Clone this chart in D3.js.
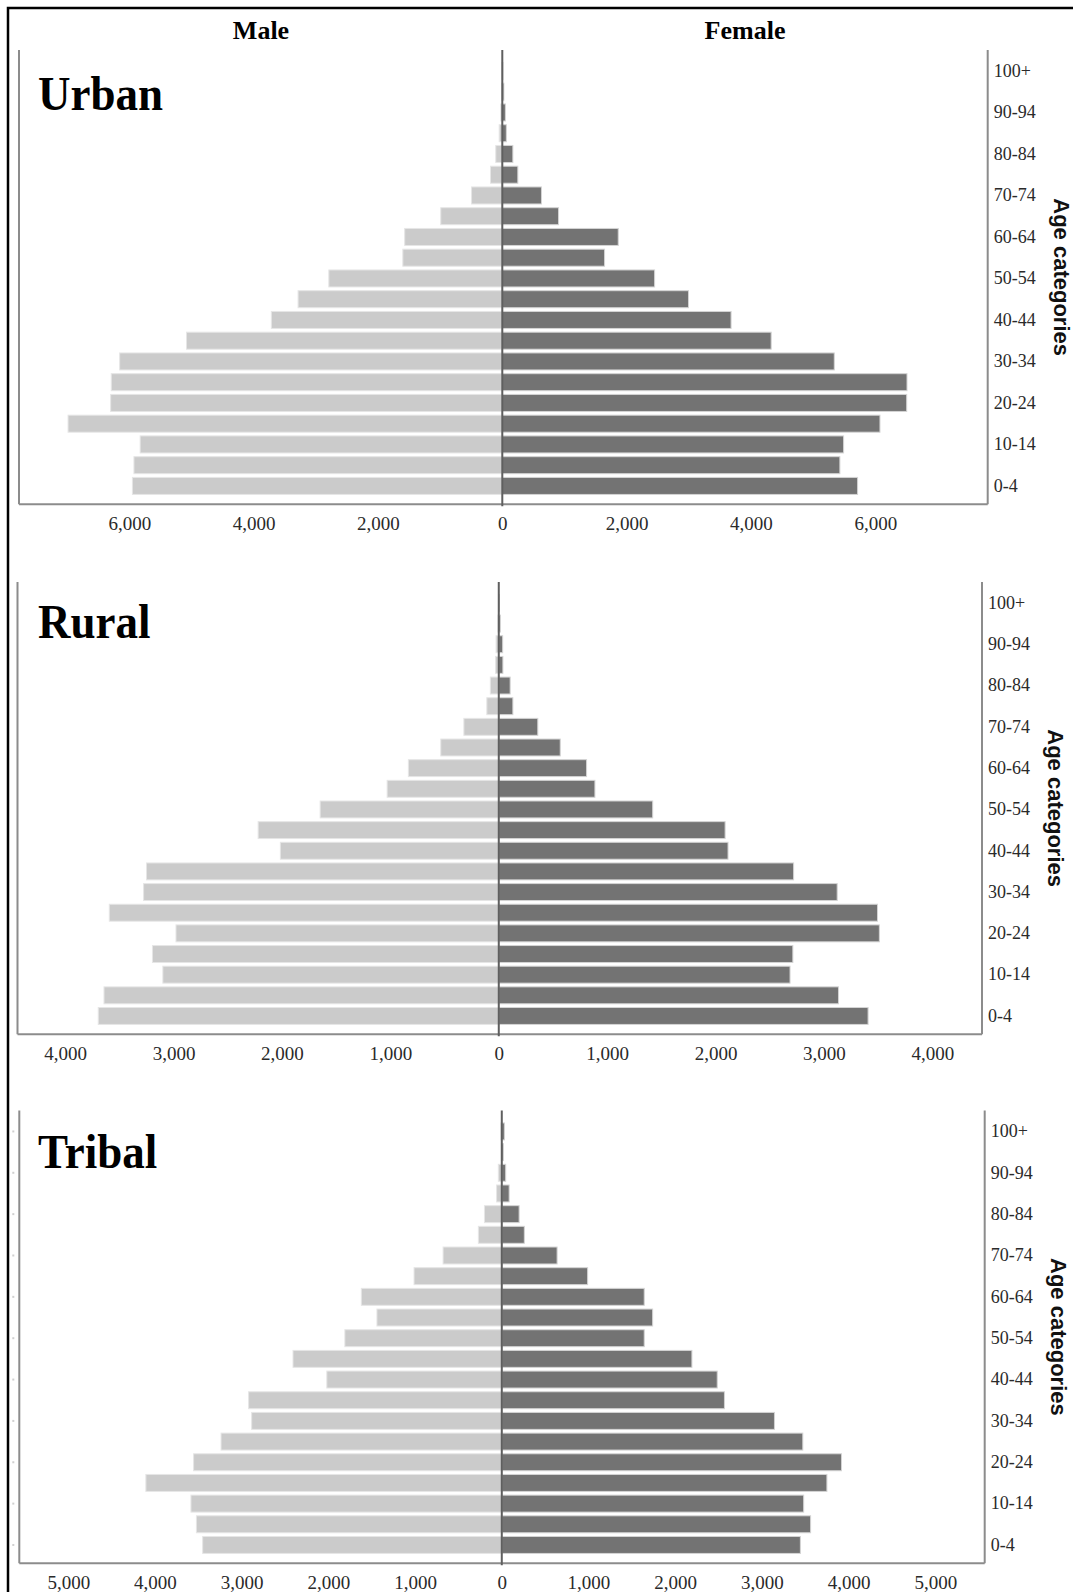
<!DOCTYPE html>
<html>
<head>
<meta charset="utf-8">
<script src="https://cdn.jsdelivr.net/npm/d3@7"></script>
<style>
  body { margin: 0; background: #fff; }
  svg { display: block; }
</style>
</head>
<body>
<svg id="chart" width="1073" height="1592"></svg>
<script>
// age groups, bottom (0-4) to top (100+)
var ages = ["0-4", "5-9", "10-14", "15-19", "20-24", "25-29", "30-34", "35-39", "40-44",
    "45-49", "50-54", "55-59", "60-64", "65-69", "70-74", "75-79", "80-84", "85-89",
    "90-94", "95-99", "100+"];
// only every other group gets a label
var ageLabels = ["0-4", "10-14", "20-24", "30-34", "40-44", "50-54", "60-64", "70-74", "80-84", "90-94", "100+"];

// urban
var urbanMale = [5950, 5925, 5825, 6985, 6300, 6290, 6155, 5080, 3715, 3285, 2790,
    1600, 1570, 990, 495, 190, 105, 50, 25, 10, 5];
var urbanFemale = [5715, 5430, 5490, 6075, 6505, 6510, 5340, 4325, 3680, 2995, 2450,
    1645, 1865, 905, 630, 250, 170, 65, 50, 25, 10];
var urbanTicks = [-6000, -4000, -2000, 0, 2000, 4000, 6000];

// rural
var ruralMale = [3695, 3642, 3099, 3195, 2978, 3593, 3277, 3250, 2015, 2220, 1648,
    1030, 834, 535, 322, 110, 78, 30, 25, 8, 3];
var ruralFemale = [3407, 3134, 2687, 2713, 3511, 3494, 3122, 2720, 2115, 2088, 1420,
    887, 810, 567, 360, 130, 105, 38, 36, 15, 5];
var ruralTicks = [-4000, -3000, -2000, -1000, 0, 1000, 2000, 3000, 4000];

// tribal
var tribalMale = [3450, 3522, 3585, 4105, 3555, 3238, 2885, 2920, 2018, 2408, 1810,
    1440, 1620, 1012, 677, 270, 200, 60, 40, 5, 10];
var tribalFemale = [3444, 3562, 3482, 3750, 3918, 3472, 3145, 2568, 2485, 2193, 1643,
    1740, 1643, 990, 638, 260, 200, 85, 45, 18, 30];
var tribalTicks = [-5000, -4000, -3000, -2000, -1000, 0, 1000, 2000, 3000, 4000, 5000];

// panel layout (pixels) and axis extents
var panels = [
    {name: "Urban", male: urbanMale, female: urbanFemale, ticks: urbanTicks,
     domain: [-7774, 7808], left: 19, right: 987.7, top: 50, bottom: 504.3, titleY: 110, dots: false},
    {name: "Rural", male: ruralMale, female: ruralFemale, ticks: ruralTicks,
     domain: [-4440, 4458], left: 17.5, right: 982, top: 582, bottom: 1034.3, titleY: 638, dots: false},
    {name: "Tribal", male: tribalMale, female: tribalFemale, ticks: tribalTicks,
     domain: [-5565, 5570], left: 19.3, right: 984.7, top: 1110.5, bottom: 1563.3, titleY: 1168, dots: true}
];

var svg = d3.select("#chart");
var serif = "'Liberation Serif', 'Times New Roman', serif";
var sans = "'Liberation Sans', Arial, sans-serif";

svg.append("rect")
    .attr("width", 1073).attr("height", 1592)
    .attr("fill", "#fff");

// outer frame (runs off the right and bottom edge)
svg.append("rect")
    .attr("x", 8).attr("y", 8)
    .attr("width", 1120).attr("height", 1620)
    .attr("fill", "none")
    .attr("stroke", "#000")
    .attr("stroke-width", 2.5);

// column headings
svg.append("text")
    .attr("x", 261).attr("y", 39)
    .attr("text-anchor", "middle")
    .attr("font-family", serif).attr("font-weight", "bold").attr("font-size", 26)
    .text("Male");
svg.append("text")
    .attr("x", 745).attr("y", 39)
    .attr("text-anchor", "middle")
    .attr("font-family", serif).attr("font-weight", "bold").attr("font-size", 26)
    .text("Female");

panels.forEach(function(p) {
    var g = svg.append("g");

    var x = d3.scaleLinear()
        .domain(p.domain)
        .range([p.left, p.right]);

    var y = d3.scaleBand()
        .domain(ages)
        .range([p.bottom - 8, p.top + 10.6])
        .paddingInner(0.18)
        .paddingOuter(0.09);

    var rows = ages.map(function(a, i) {
        return {age: a, male: p.male[i], female: p.female[i]};
    });

    //male bars
    g.selectAll("rect.male")
        .data(rows)
        .enter().append("rect")
        .attr("class", "male")
        .attr("x", function(d) { return x(-d.male); })
        .attr("y", function(d) { return y(d.age); })
        .attr("width", function(d) { return x(0) - x(-d.male); })
        .attr("height", y.bandwidth())
        .attr("fill", "#cbcbcb")
        .attr("stroke", "#e6e6e6")
        .attr("stroke-width", 1);

    //female bars
    g.selectAll("rect.female")
        .data(rows)
        .enter().append("rect")
        .attr("class", "female")
        .attr("x", x(0))
        .attr("y", function(d) { return y(d.age); })
        .attr("width", function(d) { return x(d.female) - x(0); })
        .attr("height", y.bandwidth())
        .attr("fill", "#737373")
        .attr("stroke", "#d4d4d4")
        .attr("stroke-width", 1);

    // frame lines of the plot
    g.append("line")
        .attr("x1", p.left).attr("x2", p.left)
        .attr("y1", p.top).attr("y2", p.bottom)
        .attr("stroke", "#8c8c8c").attr("stroke-width", 2);
    g.append("line")
        .attr("x1", p.right).attr("x2", p.right)
        .attr("y1", p.top).attr("y2", p.bottom)
        .attr("stroke", "#8c8c8c").attr("stroke-width", 2);
    g.append("line")
        .attr("x1", p.left).attr("x2", p.right)
        .attr("y1", p.bottom).attr("y2", p.bottom)
        .attr("stroke", "#8c8c8c").attr("stroke-width", 2);

    // zero line
    g.append("line")
        .attr("x1", x(0)).attr("x2", x(0))
        .attr("y1", p.top).attr("y2", p.bottom + 2)
        .attr("stroke", "#5f5f5f").attr("stroke-width", 2);

    // bottom ticks
    var xAxis = g.append("g")
        .attr("transform", "translate(0," + p.bottom + ")")
        .call(d3.axisBottom(x)
            .tickValues(p.ticks)
            .tickSize(0)
            .tickPadding(12)
            .tickFormat(function(d) { return d3.format(",")(Math.abs(d)); }));
    xAxis.select(".domain").remove();
    xAxis.selectAll("text")
        .attr("font-family", serif)
        .attr("font-size", 19)
        .attr("fill", "#2a2a2a");

    // age labels on the right
    var yAxis = g.append("g")
        .attr("transform", "translate(" + p.right + ",0)")
        .call(d3.axisRight(y)
            .tickValues(ageLabels)
            .tickSize(0)
            .tickPadding(6));
    yAxis.select(".domain").remove();
    yAxis.selectAll("text")
        .attr("font-family", serif)
        .attr("font-size", 18)
        .attr("fill", "#2a2a2a");

    // faint ticks left of the left axis
    if (p.dots) {
        g.selectAll("line.dot")
            .data(ageLabels)
            .enter().append("line")
            .attr("class", "dot")
            .attr("x1", p.left - 7).attr("x2", p.left - 5)
            .attr("y1", function(d) { return y(d) + y.bandwidth() / 2; })
            .attr("y2", function(d) { return y(d) + y.bandwidth() / 2; })
            .attr("stroke", "#d0d0d0").attr("stroke-width", 2);
    }

    // side title
    g.append("text")
        .attr("transform", "translate(" + (p.right + 66) + "," + ((p.top + p.bottom) / 2) + ") rotate(90)")
        .attr("text-anchor", "middle")
        .attr("font-family", sans).attr("font-weight", "bold").attr("font-size", 22)
        .attr("fill", "#111")
        .text("Age categories");

    // panel name
    g.append("text")
        .attr("transform", "translate(38," + p.titleY + ") scale(1,1.1)")
        .attr("font-family", serif).attr("font-weight", "bold").attr("font-size", 45)
        .attr("fill", "#000")
        .text(p.name);
});
</script>
</body>
</html>
